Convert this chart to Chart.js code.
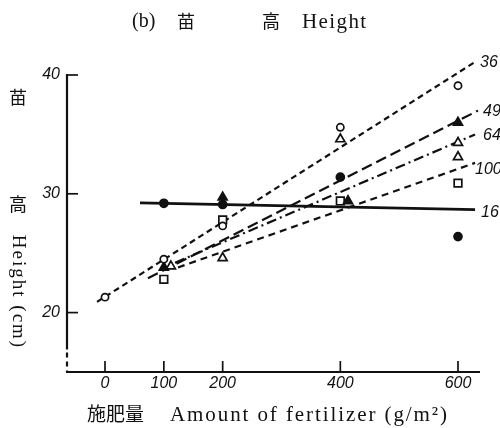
<!DOCTYPE html>
<html>
<head>
<meta charset="utf-8">
<script src="https://cdn.jsdelivr.net/npm/chart.js@4.4.1/dist/chart.umd.min.js"></script>
<style>
  html, body { margin: 0; padding: 0; background: #ffffff; }
  #wrap { width: 500px; height: 428px; }
</style>
</head>
<body>
<div id="wrap"><canvas id="c" width="500" height="428"></canvas></div>
<script>
// ---------- data ----------
const xTicks = [0, 100, 200, 400, 600];
const yTicks = [20, 30, 40];
const xRange = [-64.6, 637.4];
const yRange = [15, 40];
const axisBreakAt = 16.9;

// markers: [fertilizer g/m2, height cm]
const openCircle   = [[0, 21.3], [100, 24.5], [200, 27.3], [400, 35.6], [600, 39.1]];
const filledTri    = [[100, 23.8], [200, 29.7], [413, 29.4], [600, 36.0]];
const openTri      = [[112, 23.9], [200, 24.6], [400, 34.6], [600, 34.3], [600, 33.1]];
const openSquare   = [[100, 22.8], [200, 27.8], [400, 29.4], [600, 30.9]];
const filledCircle = [[100, 29.2], [200, 29.1], [400, 31.4], [600, 26.4]];

// fitted lines (start, end)
const line36  = [[-13.6, 20.9], [629, 41.1]];
const line49  = [[73, 22.9], [634, 37.0]];
const line64  = [[119, 24.2], [629, 35.0]];
const line100 = [[124, 23.8], [629, 32.6]];
const line16  = [[59.5, 29.24], [629, 28.66]];
const lineLabels = ['36', '49', '64', '100', '16'];

// texts
const titleParts = ['(b)', '苗', '高', 'Height'];
const yTitleParts = ['苗', '高', 'Height (cm)'];
const xTitleParts = ['施肥量', 'Amount of fertilizer (g/m²)'];

// ---------- drawing ----------
const ink = '#111111';
const toXY = arr => arr.map(p => ({ x: p[0], y: p[1] }));

function lineDs(data, dash, width) {
  return { type: 'scatter', data: toXY(data), showLine: true, borderColor: ink,
           borderWidth: width, borderDash: dash, pointRadius: 0, pointHoverRadius: 0,
           clip: false, order: 2, fill: false };
}
function markDs(data, style, radius, filled) {
  return { type: 'scatter', data: toXY(data), pointStyle: style, pointRadius: radius,
           pointHoverRadius: radius, backgroundColor: filled ? ink : '#ffffff',
           borderColor: ink, borderWidth: 1.7, clip: false, order: 1 };
}

const lineEnds = [line36, line49, line64, line100, line16];
const labelOffsets = [[5, 1], [5, 1], [8, 1], [0, 7], [6, 3]];

const deco = {
  id: 'deco',
  beforeDraw(chart) {
    const ctx = chart.ctx;
    ctx.save();
    ctx.fillStyle = '#ffffff';
    ctx.fillRect(0, 0, chart.width, chart.height);
    ctx.restore();
  },
  afterDraw(chart) {
    const { ctx, chartArea: a, scales: { x, y } } = chart;
    ctx.save();
    ctx.strokeStyle = ink;
    ctx.lineWidth = 2.2;
    ctx.lineCap = 'butt';
    // x axis
    ctx.beginPath();
    ctx.moveTo(a.left - 1, a.bottom);
    ctx.lineTo(a.right, a.bottom);
    ctx.stroke();
    // y axis solid part
    const yb = y.getPixelForValue(axisBreakAt);
    ctx.beginPath();
    ctx.moveTo(a.left, y.getPixelForValue(yTicks[yTicks.length - 1]) - 1);
    ctx.lineTo(a.left, yb);
    ctx.stroke();
    // y axis broken (dashed) part
    ctx.setLineDash([5, 4]);
    ctx.beginPath();
    ctx.moveTo(a.left, yb + 3);
    ctx.lineTo(a.left, a.bottom);
    ctx.stroke();
    ctx.setLineDash([]);
    // tick marks (inside)
    ctx.lineWidth = 1.7;
    xTicks.forEach(v => {
      const px = x.getPixelForValue(v);
      ctx.beginPath(); ctx.moveTo(px, a.bottom); ctx.lineTo(px, a.bottom - 11); ctx.stroke();
    });
    yTicks.forEach(v => {
      const py = y.getPixelForValue(v);
      ctx.beginPath(); ctx.moveTo(a.left, py); ctx.lineTo(a.left + 11, py); ctx.stroke();
    });

    // line labels
    ctx.fillStyle = ink;
    ctx.font = 'italic 16px "Liberation Sans Narrow", "Liberation Sans", sans-serif';
    ctx.textAlign = 'left';
    ctx.textBaseline = 'middle';
    lineEnds.forEach((ln, i) => {
      const e = ln[ln.length - 1];
      const px = x.getPixelForValue(e[0]) + labelOffsets[i][0];
      const py = y.getPixelForValue(e[1]) + labelOffsets[i][1];
      ctx.fillText(lineLabels[i], px, py);
    });

    // title
    const serif = '"Liberation Serif", "Noto Sans CJK JP", serif';
    const cjk = '"Noto Sans CJK JP", "Liberation Serif", serif';
    ctx.textBaseline = 'middle';
    ctx.font = '20px ' + serif;
    ctx.fillText(titleParts[0], 132, 22);
    ctx.font = '18px ' + cjk;
    ctx.fillText(titleParts[1], 177, 21);
    ctx.fillText(titleParts[2], 262, 21);
    ctx.font = '21px ' + serif;
    ctx.letterSpacing = '1.4px';
    ctx.fillText(titleParts[3], 302, 22);
    ctx.letterSpacing = '0px';

    // y title
    ctx.textAlign = 'center';
    ctx.font = '18px ' + cjk;
    ctx.fillText(yTitleParts[0], 18, 97);
    ctx.fillText(yTitleParts[1], 18, 204);
    ctx.save();
    ctx.translate(18, 292);
    ctx.rotate(Math.PI / 2);
    ctx.font = '19px ' + serif;
    ctx.letterSpacing = '2px';
    ctx.fillText(yTitleParts[2], 0, 0);
    ctx.restore();

    // x title
    ctx.textAlign = 'left';
    ctx.font = '19px ' + cjk;
    ctx.letterSpacing = '0px';
    ctx.fillText(xTitleParts[0], 87, 414);
    ctx.font = '21px ' + serif;
    const w = ctx.measureText(xTitleParts[1]).width;
    const n = xTitleParts[1].length;
    ctx.letterSpacing = Math.max(0, (277 - w) / (n - 1)) + 'px';
    ctx.fillText(xTitleParts[1], 170, 415);
    ctx.letterSpacing = '0px';
    ctx.restore();
  }
};

const tickFont = { family: '"Liberation Sans Narrow", "Liberation Sans", sans-serif', size: 16, style: 'italic' };

new Chart(document.getElementById('c'), {
  type: 'scatter',
  data: {
    datasets: [
      lineDs(line36, [6, 4], 2.2),
      lineDs(line49, [11, 5], 2.2),
      lineDs(line64, [10, 4, 2, 4], 2.2),
      lineDs(line100, [7, 5], 2.2),
      lineDs(line16, [], 2.8),
      markDs(openCircle, 'circle', 3.6, false),
      markDs(filledTri, 'triangle', 5.2, true),
      markDs(openTri, 'triangle', 5.2, false),
      markDs(openSquare, 'rect', 5.4, false),
      markDs(filledCircle, 'circle', 4, true)
    ]
  },
  options: {
    responsive: false,
    animation: false,
    events: [],
    layout: { padding: { left: 0, right: 20, top: 75, bottom: 0 } },
    plugins: { legend: { display: false }, tooltip: { enabled: false }, title: { display: false } },
    scales: {
      x: {
        type: 'linear', position: 'bottom', min: xRange[0], max: xRange[1],
        afterBuildTicks: s => { s.ticks = xTicks.map(v => ({ value: v })); },
        afterFit: s => { s.height = 56; },
        grid: { display: false, drawTicks: false },
        border: { display: false },
        ticks: { font: tickFont, color: ink, padding: 2, maxRotation: 0, autoSkip: false }
      },
      y: {
        type: 'linear', position: 'left', min: yRange[0], max: yRange[1],
        afterBuildTicks: s => { s.ticks = yTicks.map(v => ({ value: v })); },
        afterFit: s => { s.width = 67; },
        grid: { display: false, drawTicks: false },
        border: { display: false },
        ticks: { font: tickFont, color: ink, padding: 7, autoSkip: false }
      }
    }
  },
  plugins: [deco]
});
</script>
</body>
</html>
